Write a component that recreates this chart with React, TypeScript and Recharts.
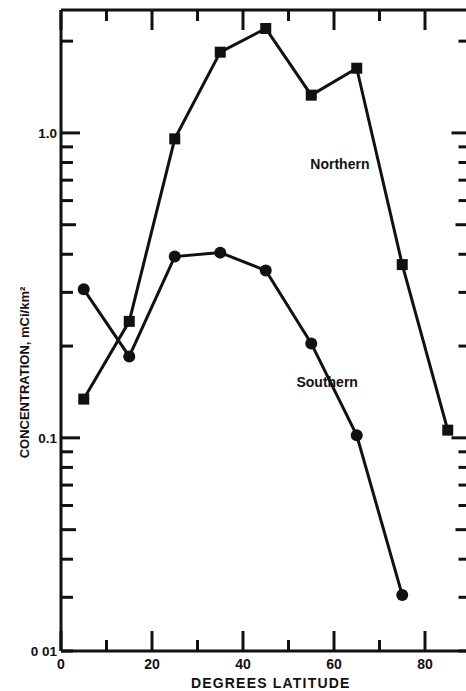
import React from 'react';
import { LineChart, Line, XAxis, YAxis, ReferenceDot } from 'recharts';

const latitudes = [5, 15, 25, 35, 45, 55, 65, 75, 85];
const northern = [0.134, 0.241, 0.956, 1.84, 2.2, 1.33, 1.63, 0.37, 0.106];
const southern = [0.307, 0.185, 0.393, 0.405, 0.354, 0.204, 0.102, 0.0305, null];

const xTicks = [0, 10, 20, 30, 40, 50, 60, 70, 80];
const xLabels: Record<number, string> = { 0: '0', 20: '20', 40: '40', 60: '60', 80: '80' };
const yTicks = [
  0.02, 0.03, 0.04, 0.05, 0.06, 0.07, 0.08, 0.09,
  0.1, 0.2, 0.3, 0.4, 0.5, 0.6, 0.7, 0.8, 0.9,
  1, 2,
];
const yLabels: Record<string, string> = { '0.02': '0 01', '0.1': '0.1', '1': '1.0' };

const data = latitudes.map((lat, i) => ({ lat, northern: northern[i], southern: southern[i] }));

const INK = '#111';
const FONT = '"Liberation Sans", Arial, sans-serif';

const yLen = (v: number) => (v === 1 || v === 0.1 ? 19 : v === 0.5 || v === 0.05 ? 15 : 12);
const xLen = (v: number) => (v % 20 === 0 ? 20 : 11);

const LeftTick = ({ x, y, payload }: any) => {
  const v = payload.value;
  const label = yLabels[String(v)];
  return (
    <g>
      <line x1={x} y1={y} x2={x + yLen(v)} y2={y} stroke={INK} strokeWidth={3} />
      {label && (
        <text x={x - 4} y={y} dy={5} textAnchor="end" fontFamily={FONT} fontWeight="bold" fontSize={13.5} fill={INK}>
          {label}
        </text>
      )}
    </g>
  );
};

const RightTick = ({ x, y, payload }: any) => (
  <line x1={x} y1={y} x2={x - yLen(payload.value)} y2={y} stroke={INK} strokeWidth={3} />
);

const BottomTick = ({ x, y, payload }: any) => {
  const v = payload.value;
  const label = xLabels[v];
  return (
    <g>
      <line x1={x} y1={y} x2={x} y2={y - xLen(v)} stroke={INK} strokeWidth={3} />
      {label && (
        <text x={x} y={y + 18} textAnchor="middle" fontFamily={FONT} fontWeight="bold" fontSize={14} fill={INK}>
          {label}
        </text>
      )}
    </g>
  );
};

const TopTick = ({ x, y, payload }: any) => (
  <line x1={x} y1={y} x2={x} y2={y + xLen(payload.value)} stroke={INK} strokeWidth={3} />
);

const SquareDot = ({ cx, cy }: any) =>
  cx == null || cy == null ? null : <rect x={cx - 5.5} y={cy - 5.5} width={11} height={11} fill={INK} />;

const CircleDot = ({ cx, cy }: any) =>
  cx == null || cy == null ? null : <circle cx={cx} cy={cy} r={6} fill={INK} />;

const axisLine = { stroke: INK, strokeWidth: 3 };

export default function App() {
  return (
    <div style={{ position: 'absolute', left: 8, top: 8, width: 458, height: 683, overflow: 'hidden', background: '#fff' }}>
      <LineChart width={473} height={683} data={data} margin={{ top: 0, right: 0, bottom: 0, left: 0 }}>
        <XAxis
          xAxisId="bottom"
          dataKey="lat"
          type="number"
          domain={[0, 90]}
          ticks={xTicks}
          interval={0}
          height={40}
          tickSize={0}
          tickMargin={0}
          tickLine={false}
          axisLine={axisLine}
          tick={<BottomTick />}
          label={{
            content: ({ viewBox }: any) => (
              <text
                x={viewBox.x + viewBox.width / 2 + 5}
                y={viewBox.y + 37}
                textAnchor="middle"
                fontFamily={FONT}
                fontWeight="bold"
                fontSize={14}
                letterSpacing={1.2}
                fill={INK}
              >
                DEGREES LATITUDE
              </text>
            ),
          }}
        />
        <XAxis
          xAxisId="top"
          orientation="top"
          dataKey="lat"
          type="number"
          domain={[0, 90]}
          ticks={xTicks}
          interval={0}
          height={2}
          tickSize={0}
          tickMargin={0}
          tickLine={false}
          axisLine={axisLine}
          tick={<TopTick />}
        />
        <YAxis
          yAxisId="left"
          scale="log"
          type="number"
          domain={[0.02, 2.53]}
          allowDataOverflow
          ticks={yTicks}
          interval={0}
          width={53}
          tickSize={0}
          tickMargin={0}
          tickLine={false}
          axisLine={axisLine}
          tick={<LeftTick />}
          label={{
            content: ({ viewBox }: any) => {
              const cx = viewBox.x + 16;
              const cy = viewBox.y + viewBox.height / 2 + 42;
              return (
                <text
                  x={cx}
                  y={cy}
                  transform={`rotate(-90 ${cx} ${cy})`}
                  textAnchor="middle"
                  dominantBaseline="central"
                  fontFamily={FONT}
                  fontWeight="bold"
                  fontSize={13}
                  fill={INK}
                >
                  CONCENTRATION, mCi/km²
                </text>
              );
            },
          }}
        />
        <YAxis
          yAxisId="right"
          orientation="right"
          scale="log"
          type="number"
          domain={[0.02, 2.53]}
          allowDataOverflow
          ticks={yTicks}
          interval={0}
          width={10.5}
          tickSize={0}
          tickMargin={0}
          tickLine={false}
          axisLine={axisLine}
          tick={<RightTick />}
        />
        <Line
          xAxisId="bottom"
          yAxisId="left"
          dataKey="northern"
          stroke={INK}
          strokeWidth={3}
          dot={<SquareDot />}
          activeDot={false}
          isAnimationActive={false}
        />
        <Line
          xAxisId="bottom"
          yAxisId="left"
          dataKey="southern"
          stroke={INK}
          strokeWidth={3}
          dot={<CircleDot />}
          activeDot={false}
          isAnimationActive={false}
        />
        <ReferenceDot
          xAxisId="bottom"
          yAxisId="left"
          x={61.3}
          y={0.79}
          r={0}
          label={{ value: 'Northern', position: 'center', fontFamily: FONT, fontWeight: 'bold', fontSize: 14, fill: INK }}
        />
        <ReferenceDot
          xAxisId="bottom"
          yAxisId="left"
          x={58.5}
          y={0.153}
          r={0}
          label={{ value: 'Southern', position: 'center', fontFamily: FONT, fontWeight: 'bold', fontSize: 14, fill: INK }}
        />
      </LineChart>
    </div>
  );
}
